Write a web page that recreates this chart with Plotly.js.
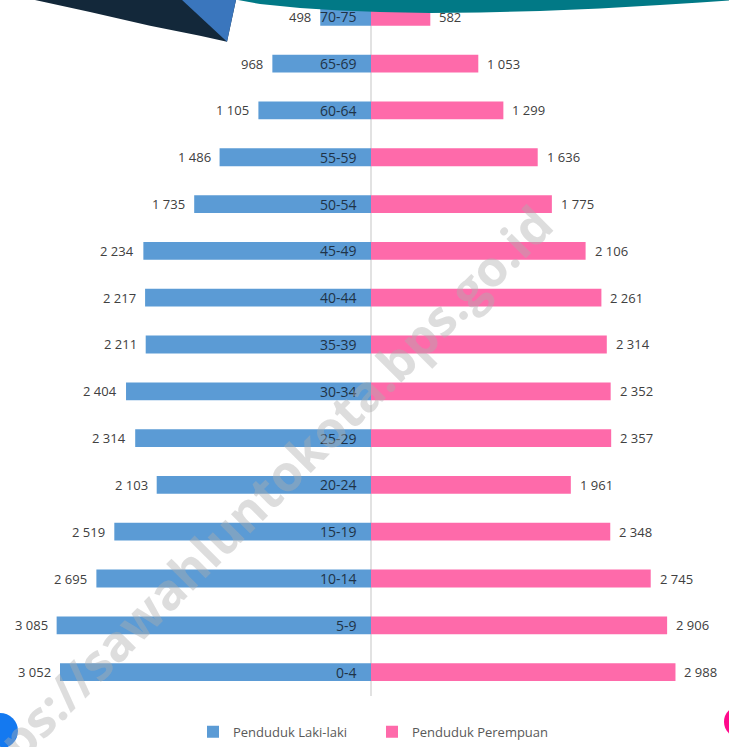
<!DOCTYPE html>
<html>
<head>
<meta charset="utf-8">
<script src="https://cdn.plot.ly/plotly-3.0.1.min.js"></script>
<style>html,body{margin:0;padding:0;background:#fff;}#chart{width:729px;height:747px;}</style>
</head>
<body>
<div id="chart"></div>
<script>
const ageGroups = ['0-4','5-9','10-14','15-19','20-24','25-29','30-34','35-39','40-44','45-49','50-54','55-59','60-64','65-69','70-75'];
const male   = [3052,3085,2695,2519,2103,2314,2404,2211,2217,2234,1735,1486,1105,968,498];
const female = [2988,2906,2745,2348,1961,2357,2352,2314,2261,2106,1775,1636,1299,1053,582];
const seriesNames = ['Penduduk Laki-laki','Penduduk Perempuan'];
const watermark = 'https://sawahluntokota.bps.go.id';

const W = 729, H = 747, PH = 700;
const fmt = v => String(v).replace(/\B(?=(\d{3})+(?!\d))/g, ' ');
const px = x => x / W;
const py = y => 1 - y / PH;
const P = pts => 'M' + pts.map(p => px(p[0]).toFixed(4) + ',' + py(p[1]).toFixed(4)).join(' L') + ' Z';

const FONT = '"Open Sans", sans-serif';

const traces = [
  {type:'bar', orientation:'h', y:ageGroups, x:male.map(v=>-v), name:seriesNames[0],
   marker:{color:'#5b9bd5'}, hoverinfo:'skip'},
  {type:'bar', orientation:'h', y:ageGroups, x:female, name:seriesNames[1],
   marker:{color:'#fe6aaa'}, hoverinfo:'skip'}
];

const annotations = [];
ageGroups.forEach((g,i) => {
  annotations.push({x:0, y:g, xref:'x', yref:'y', text:g, showarrow:false, xanchor:'right', xshift:-12,
    font:{family:FONT, size:14, color:'#1f3347'}});
  annotations.push({x:-male[i], y:g, xref:'x', yref:'y', text:fmt(male[i]), showarrow:false, xanchor:'right', xshift:-7,
    font:{family:FONT, size:13, color:'#404040'}});
  annotations.push({x:female[i], y:g, xref:'x', yref:'y', text:fmt(female[i]), showarrow:false, xanchor:'left', xshift:7,
    font:{family:FONT, size:13, color:'#404040'}});
});
annotations.push({xref:'paper', yref:'paper', x:px(248), y:py(512), xanchor:'center', yanchor:'middle',
  text:'<b>'+watermark+'</b>', showarrow:false,
  textangle:-45, font:{family:'"Open Sans", sans-serif', size:50, color:'rgba(175,175,175,0.42)'}});

const shapes = [
  {type:'line', xref:'x', yref:'paper', x0:0, x1:0, y0:0, y1:1, line:{color:'#d9d9d9', width:1.5}, layer:'below'},
  {type:'path', xref:'paper', yref:'paper', path:P([[35,0],[90,12],[150,26],[200,36],[227,42],[236,0]]), fillcolor:'#13283a', line:{width:0}},
  {type:'path', xref:'paper', yref:'paper', path:P([[182,0],[227,42],[236,0]]), fillcolor:'#3a76bd', line:{width:0}},
  {type:'path', xref:'paper', yref:'paper', path:P([[238,0],[260,4],[300,8],[340,10.5],[380,12],[430,13],[480,12.5],[540,11],[600,8.5],[660,5],[700,2.5],[729,0.5],[729,-5],[238,-5]]), fillcolor:'#017986', line:{width:0}},
  {type:'circle', xref:'paper', yref:'paper', x0:px(-18), x1:px(18), y0:py(753), y1:py(717), fillcolor:'#1479f0', line:{width:0}},
  {type:'circle', xref:'paper', yref:'paper', x0:px(724), x1:px(756), y0:py(742), y1:py(710), fillcolor:'#ff0a8c', line:{width:0}}
];

const layout = {
  width:W, height:H,
  margin:{l:0, r:0, t:0, b:H-PH, pad:0},
  paper_bgcolor:'#ffffff', plot_bgcolor:'#ffffff',
  barmode:'relative', bargap:0.62,
  showlegend:true,
  legend:{orientation:'h', x:px(193), xanchor:'left', y:py(736), yanchor:'middle',
    font:{family:FONT, size:13, color:'#595959'}, itemwidth:30, entrywidth:134, traceorder:'normal'},
  xaxis:{range:[-371/0.1019, (W-371)/0.1019], showgrid:false, zeroline:false, showticklabels:false, ticks:'', fixedrange:true},
  yaxis:{type:'category', range:[-0.51, 14.36], showgrid:false, zeroline:false, showticklabels:false, ticks:'', fixedrange:true},
  annotations:annotations,
  shapes:shapes,
  font:{family:FONT}
};

Plotly.newPlot('chart', traces, layout, {displayModeBar:false, staticPlot:true});
</script>
</body>
</html>
